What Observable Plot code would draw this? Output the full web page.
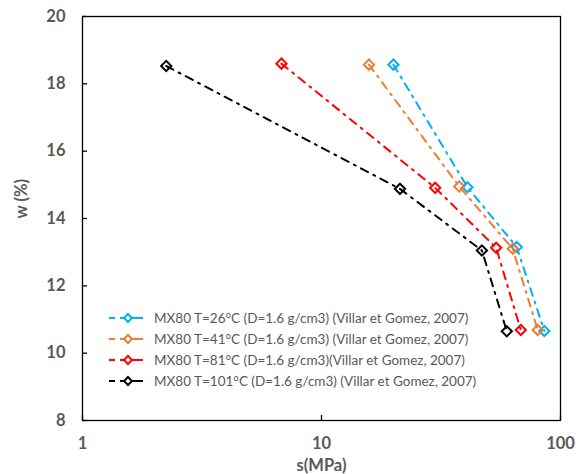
<!DOCTYPE html>
<html>
<head>
<meta charset="utf-8">
<script src="https://cdn.jsdelivr.net/npm/d3@7"></script>
<script src="https://cdn.jsdelivr.net/npm/@observablehq/plot@0.6"></script>
<style>
  html, body { margin: 0; padding: 0; background: #fff; }
  #chart { position: relative; width: 581px; height: 474px; }
</style>
</head>
<body>
<div id="chart"></div>
<script>
// Series
const seriesNames = [
  "MX80 T=26°C (D=1.6 g/cm3) (Villar et Gomez, 2007)",
  "MX80 T=41°C (D=1.6 g/cm3) (Villar et Gomez, 2007)",
  "MX80 T=81°C (D=1.6 g/cm3)(Villar et Gomez, 2007)",
  "MX80 T=101°C (D=1.6 g/cm3) (Villar et Gomez, 2007)"
];
const seriesColors = ["#00B0F0", "#ED7D31", "#FF0000", "#000000"];

const s26 = [20.0, 40.8, 65.6, 85.6];
const w26 = [18.57, 14.93, 13.15, 10.66];
const s41 = [15.8, 37.7, 63.1, 80.3];
const w41 = [18.57, 14.95, 13.10, 10.69];
const s81 = [6.8, 29.9, 53.8, 68.2];
const w81 = [18.60, 14.91, 13.13, 10.69];
const s101 = [2.24, 21.3, 46.9, 59.6];
const w101 = [18.53, 14.88, 13.05, 10.65];

const xTicks = [1, 10, 100];
const yTicks = [8, 10, 12, 14, 16, 18, 20];
const xTitle = "s(MPa)";
const yTitle = "w (%)";

const sVals = [s26, s41, s81, s101];
const wVals = [w26, w41, w81, w101];
const data = [];
seriesNames.forEach((name, i) => {
  sVals[i].forEach((s, j) => data.push({series: name, s, w: wVals[i][j]}));
});

const labelColor = "#595959";
const font = "Lato, 'Open Sans', sans-serif";
const dash = "8,6,2,6";

const marks = [
  Plot.frame({stroke: "#000", strokeWidth: 1.3}),
  Plot.axisX(xTicks, {anchor: "bottom", tickSize: -5, tickPadding: 22, tickFormat: d => String(d),
    fontSize: 16.5, fontWeight: "bold", fill: labelColor, stroke: "#000", strokeWidth: 1.3, label: null}),
  Plot.axisY(yTicks, {anchor: "left", tickSize: -5, tickPadding: 22,
    fontSize: 16.5, fontWeight: "bold", fill: labelColor, stroke: "#000", strokeWidth: 1.3, label: null}),
  Plot.text([xTitle], {frameAnchor: "bottom", dy: 45, text: d => d, fontSize: 16.5, fontWeight: "bold", fill: labelColor, lineAnchor: "middle"}),
  Plot.text([yTitle], {frameAnchor: "left", dx: -61, rotate: -90, text: d => d, fontSize: 16.5, fontWeight: "bold", fill: labelColor, lineAnchor: "middle"})
];
seriesNames.forEach((name, i) => {
  const d = data.filter(r => r.series === name);
  marks.push(Plot.line(d, {x: "s", y: "w", stroke: seriesColors[i], strokeWidth: 2, strokeDasharray: dash}));
  marks.push(Plot.dot(d, {x: "s", y: "w", symbol: "diamond2", r: 4.6, stroke: seriesColors[i], strokeWidth: 2, fill: "none"}));
});

const plot = Plot.plot({
  width: 581,
  height: 474,
  marginLeft: 82,
  marginRight: 21,
  marginTop: 16,
  marginBottom: 54,
  style: {fontFamily: font, background: "#fff", overflow: "visible"},
  x: {type: "log", domain: [1, 100], axis: null},
  y: {domain: [8, 20], axis: null},
  marks
});
document.getElementById("chart").appendChild(plot);

// Legend (inside plot area)
const svg = d3.select(plot);
const lg = svg.append("g").attr("font-family", font).attr("font-size", 13.5)
  .attr("fill", labelColor).attr("text-anchor", "start");
const rowY = [318, 339, 360, 381];
seriesNames.forEach((name, i) => {
  const g = lg.append("g").attr("transform", `translate(0,${rowY[i]})`);
  g.append("line").attr("x1", 109).attr("x2", 143).attr("y1", 0).attr("y2", 0)
    .attr("stroke", seriesColors[i]).attr("stroke-width", 2).attr("stroke-dasharray", "6,5,100");
  g.append("path").attr("d", d3.symbol(d3.symbolDiamond2, 40)())
    .attr("transform", "translate(128,0)")
    .attr("fill", "#fff").attr("stroke", seriesColors[i]).attr("stroke-width", 2);
  g.append("text").attr("x", 154).attr("y", 0).attr("dy", "0.35em")
    .attr("text-anchor", "start").text(name);
});
</script>
</body>
</html>
